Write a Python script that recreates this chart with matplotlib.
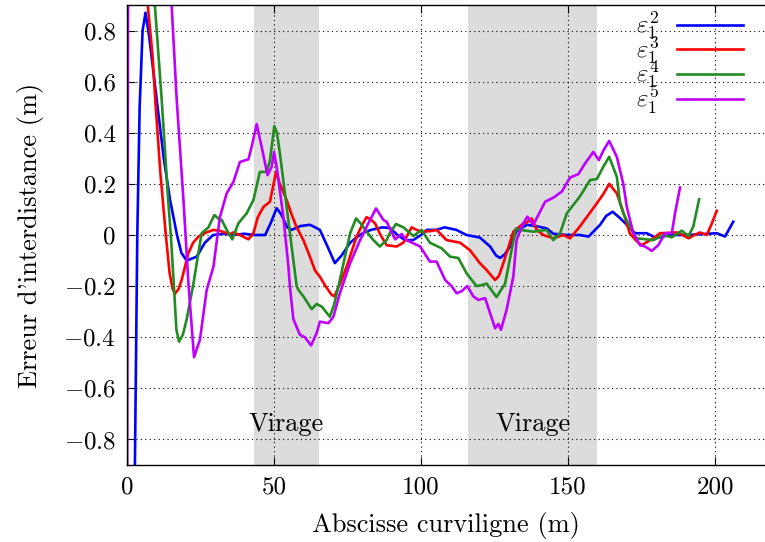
import matplotlib
matplotlib.use("Agg")
import matplotlib.pyplot as plt
from matplotlib.lines import Line2D

plt.rcParams['font.family'] = 'serif'
plt.rcParams['font.serif'] = ['cmr10']
plt.rcParams['mathtext.fontset'] = 'cm'
plt.rcParams['axes.formatter.use_mathtext'] = True

# zones de virage (m)
virage_zones = [(43.2, 65.3), (116.0, 160.0)]

# eps_1^2
blue_x = [2.6, 3.5, 4.3, 5.3, 6.3, 7.5, 10.1, 12.5, 14.6, 17.0, 18.5, 20.3, 23.7, 26.5, 29.3, 33, 36, 40, 43, 47,
          49, 50.9, 52.5, 54.5, 56, 59, 62.2, 64, 65.6, 68, 70.7, 73, 75.9, 78, 80.3, 83, 87, 89.5, 92, 94.6,
          97.3, 100, 102, 105.3, 108, 110, 112, 115.5, 120, 123.5, 125.5, 126.9, 128.5, 130.3, 132.5, 136, 139,
          142.7, 145, 149.6, 154, 157, 160.9, 163, 165.2, 167.7, 170, 172.8, 176.8, 180, 184.7, 190.4, 195,
          200.6, 203.4, 206.2]
blue_y = [-1.0, 0.0, 0.5, 0.8, 0.87, 0.78, 0.53, 0.3, 0.14, 0.0, -0.07, -0.10, -0.085, -0.03, 0.0, 0.005, 0.0,
          0.005, 0.0, 0.0, 0.05, 0.105, 0.08, 0.03, 0.02, 0.035, 0.04, 0.03, 0.02, -0.04, -0.11, -0.08, -0.03,
          -0.01, 0.008, 0.02, 0.03, 0.027, 0.0, -0.02, -0.02, 0.0, 0.02, 0.02, 0.03, 0.025, 0.02, 0.0, -0.01,
          -0.045, -0.08, -0.09, -0.075, -0.045, 0.015, 0.04, 0.035, 0.026, 0.005, 0.0, 0.0, -0.006, 0.04, 0.075,
          0.091, 0.066, 0.04, 0.007, 0.007, -0.012, 0.0, 0.0, 0.003, 0.007, -0.006, 0.052]

# eps_1^3
red_x = [1.0, 5.0, 7.1, 8.7, 9.6, 11.3, 13.2, 14.5, 15.5, 16.3, 17.6, 18.6, 20.9, 22.5, 24.3, 27, 29.4, 31.7,
         35, 36.1, 38.4, 41.3, 43, 44.5, 46.4, 48.6, 50.7, 52, 54.3, 56, 57.7, 60, 62.2, 64, 65.6, 67.5, 69.6,
         70.5, 72.5, 74.7, 78.1, 80, 81.5, 83, 84.4, 86, 88.3, 91.7, 94, 96.8, 98.5, 100.2, 103, 105.3, 107,
         108.7, 113.3, 116.7, 120, 122.3, 124, 125.2, 126.5, 128, 131.4, 134.2, 136, 137.6, 139.4, 141.6, 145,
         148.4, 150.7, 152, 154, 157, 159.8, 162, 164, 166.6, 168.5, 170, 171, 173, 175, 179, 181.3, 187, 189,
         191, 193, 194.9, 197.2, 198.9, 200.6]
red_y = [1.3, 1.0, 0.895, 0.7, 0.53, 0.25, 0.0, -0.15, -0.21, -0.23, -0.21, -0.175, -0.07, -0.03, -0.006, 0.01,
         0.02, 0.016, 0.003, 0.01, 0.0, -0.017, 0.007, 0.07, 0.11, 0.13, 0.247, 0.2, 0.137, 0.08, 0.03, -0.02,
         -0.085, -0.14, -0.163, -0.2, -0.234, -0.24, -0.19, -0.124, -0.006, 0.04, 0.07, 0.06, 0.045, 0.005, -0.04,
         -0.045, -0.03, 0.03, 0.02, 0.013, 0.015, 0.02, 0.0, -0.02, -0.03, -0.06, -0.11, -0.137, -0.16, -0.176,
         -0.16, -0.11, 0.013, 0.04, 0.05, 0.065, 0.02, 0.0, -0.013, 0.0, -0.013, 0.005, 0.033, 0.08, 0.124, 0.16,
         0.2, 0.163, 0.1, 0.046, 0.007, -0.02, -0.04, -0.013, 0.007, 0.01, 0.0, -0.013, 0.0, 0.01, 0.0, 0.045,
         0.095]

# eps_1^4
green_x = [1.5, 8.5, 9.5, 11.8, 14.0, 14.9, 15.9, 16.8, 17.7, 19, 20.3, 22.6, 24, 25.4, 27.7, 29.7, 31, 32.2,
           33.9, 35.8, 37.9, 40.7, 43, 45.2, 47.5, 48.6, 50.1, 51, 52, 54.3, 56.6, 57.7, 58.3, 60, 62.8, 64.5,
           66.2, 69, 70.5, 72.4, 75.9, 77.9, 79.5, 81, 83.8, 86, 88.3, 89.5, 91.5, 94, 97.4, 100.2, 103, 107,
           109.9, 112.7, 115.5, 118.9, 121, 122.3, 125.7, 128.6, 130.8, 132.3, 133.7, 138.2, 142.7, 145, 147.3,
           149.6, 154, 157.5, 159.8, 162, 164, 166.6, 167.7, 168.8, 171, 173.4, 179, 182.4, 185.3, 188.7, 191,
           192.6, 194.6]
green_y = [1.3, 1.1, 0.895, 0.53, 0.137, 0.0, -0.19, -0.37, -0.417, -0.39, -0.33, -0.19, -0.09, 0.007, 0.03,
           0.078, 0.065, 0.059, 0.02, -0.017, 0.046, 0.085, 0.137, 0.247, 0.247, 0.29, 0.426, 0.4, 0.32, 0.11,
           -0.1, -0.2, -0.215, -0.24, -0.29, -0.27, -0.28, -0.32, -0.27, -0.176, 0.007, 0.065, 0.045, 0.02, -0.02,
           -0.045, -0.02, 0.01, 0.043, 0.03, -0.004, 0.02, -0.03, -0.052, -0.085, -0.09, -0.15, -0.2, -0.195,
           -0.19, -0.243, -0.19, -0.06, 0.026, 0.02, 0.013, 0.02, -0.02, 0.007, 0.085, 0.15, 0.215, 0.219, 0.267,
           0.306, 0.228, 0.124, 0.085, 0.033, -0.013, -0.02, 0.0, -0.009, 0.017, -0.004, 0.033, 0.14]

# eps_1^5
purple_x = [0.0, 0.4, 8, 14.5, 15.2, 16.9, 19.2, 20.9, 22.8, 24.8, 27.1, 29.4, 31.6, 33.9, 36.2, 38.4, 41.3,
            42.4, 44.1, 45.8, 47.8, 49.2, 50, 50.9, 53.2, 54.9, 55.4, 56.6, 58.8, 60.5, 62.6, 64.5, 65.6, 68.5,
            70.2, 72.4, 75.9, 79.3, 82.1, 84.7, 87.2, 88.3, 91.2, 93.4, 95.1, 99.7, 103, 105.3, 108.2, 110.4,
            112.1, 113.8, 115.7, 117.8, 119.5, 121.8, 123.5, 125.2, 126.3, 127.2, 129.1, 131.4, 132.5, 134.5,
            136.2, 138.2, 139.9, 142.2, 145, 147.9, 150.7, 153.5, 155.8, 158.6, 160.5, 162, 164, 166.6, 168.8,
            170, 172.2, 174.5, 176.2, 178.5, 180.7, 183, 185.3, 186.4, 188.1]
purple_y = [-1.2, 1.2, 2.0, 1.2, 0.895, 0.53, 0.137, -0.19, -0.478, -0.41, -0.215, -0.124, 0.07, 0.163, 0.208,
            0.286, 0.296, 0.345, 0.434, 0.345, 0.234, 0.267, 0.325, 0.267, 0.07, -0.124, -0.2, -0.33, -0.39,
            -0.4, -0.432, -0.384, -0.339, -0.345, -0.32, -0.228, -0.11, -0.02, 0.046, 0.104, 0.059, 0.052,
            -0.017, 0.004, -0.02, -0.045, -0.104, -0.104, -0.176, -0.2, -0.228, -0.22, -0.2, -0.24, -0.254,
            -0.247, -0.306, -0.365, -0.348, -0.371, -0.293, -0.163, -0.02, 0.04, 0.072, 0.04, 0.078, 0.13, 0.146,
            0.17, 0.225, 0.238, 0.28, 0.325, 0.293, 0.33, 0.368, 0.306, 0.2, 0.11, 0.007, -0.04, -0.045, -0.062,
            -0.04, 0.007, 0.007, 0.085, 0.186]

series = [
    (blue_x, blue_y, '#0000ff', r'$\varepsilon_1^2$'),
    (red_x, red_y, '#ff0000', r'$\varepsilon_1^3$'),
    (green_x, green_y, '#228b22', r'$\varepsilon_1^4$'),
    (purple_x, purple_y, '#c000ff', r'$\varepsilon_1^5$'),
]

x_ticks = [0, 50, 100, 150, 200]
y_ticks = [-0.8, -0.6, -0.4, -0.2, 0, 0.2, 0.4, 0.6, 0.8]

fig = plt.figure(figsize=(7.65, 5.42), dpi=100)
ax = fig.add_axes([127 / 765, 77 / 542, 638 / 765, 460 / 542])

for a, b in virage_zones:
    ax.axvspan(a, b, color='#dcdcdc', lw=0, zorder=0)
    ax.text((a + b) / 2, -0.74, 'Virage', ha='center', va='center', fontsize=19, zorder=3)

handles = []
for xs, ys, col, lab in series:
    ax.plot(xs, ys, color=col, lw=1.9, solid_joinstyle='round', zorder=2)
    handles.append(Line2D([], [], color=col, lw=1.9))

ax.set_xlim(0, 217)
ax.set_ylim(-0.9, 0.9)
ax.set_xticks(x_ticks)
ax.set_xticklabels([str(t) for t in x_ticks])
ax.set_yticks(y_ticks)
ax.set_yticklabels(['$-%.1f$' % -t if t < 0 else ('0' if t == 0 else '%.1f' % t) for t in y_ticks])
ax.tick_params(direction='in', length=6, width=0.8, labelsize=18, top=True, pad=8)
ax.grid(True, linestyle=(0, (1, 3)), color='black', lw=0.8)
ax.set_axisbelow(True)
ax.spines['right'].set_visible(False)
for s in ['left', 'top', 'bottom']:
    ax.spines[s].set_linewidth(1.0)

ax.set_xlabel('Abscisse curviligne (m)', fontsize=19, labelpad=10)
ax.set_ylabel("Erreur d'interdistance (m)", fontsize=19, labelpad=14)

leg = ax.legend(handles, [s[3] for s in series], loc='upper right', bbox_to_anchor=(0.9655, 0.989),
                frameon=False, markerfirst=False, handlelength=2.64, handletextpad=0.7,
                labelspacing=-0.3, fontsize=18, borderpad=0.0, borderaxespad=0.0)
for t in leg.get_texts():
    t.set_ha('right')

fig.savefig('out.png', dpi=100)
